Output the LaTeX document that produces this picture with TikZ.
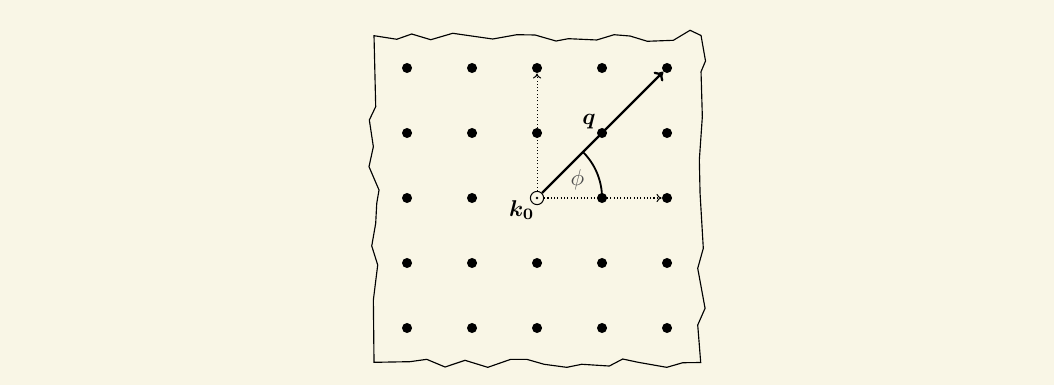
\documentclass[tikz,border=0pt]{standalone}
\usepackage{amsmath}
\usepackage{bm}
\usetikzlibrary{arrows.meta}
\definecolor{bgc}{RGB}{249,246,230}
\begin{document}
\begin{tikzpicture}[
  latdot/.style={circle,fill=black,inner sep=0pt,minimum size=4.4pt},
  origin/.style={circle,draw=black,fill=bgc,line width=0.45pt,inner sep=0pt,minimum size=5.8pt},
  edgeline/.style={line width=0.5pt,line join=miter},
  qarrow/.style={line width=1pt,-{To[length=3.4pt,width=5.6pt]}},
  axisarrow/.style={densely dotted,line width=0.45pt,-{To[length=2.2pt,width=3.6pt]}},
  anglearc/.style={line width=0.8pt}
]
\fill[bgc] (-8.262,-2.877) rectangle (7.953,3.046);
\useasboundingbox (-8.262,-2.877) rectangle (7.953,3.046);
% torn sheet outline
\draw[edgeline]
 (-2.508,2.497) -- (-2.158,2.442) -- (-1.928,2.523) -- (-1.635,2.435) -- (-1.297,2.534)
 -- (-0.682,2.446) -- (-0.312,2.512) -- (-0.031,2.508) -- (0.292,2.415) -- (0.482,2.451)
 -- (0.918,2.431) -- (1.185,2.512) -- (1.431,2.492) -- (1.697,2.411) -- (2.097,2.426)
 -- (2.354,2.580) -- (2.523,2.500)
 -- (2.592,2.108) -- (2.523,1.943) -- (2.543,1.251) -- (2.497,0.585) -- (2.508,0.072)
 -- (2.558,-0.774) -- (2.472,-1.082) -- (2.585,-1.697) -- (2.472,-1.954) -- (2.518,-2.531)
 -- (2.242,-2.534) -- (1.995,-2.605) -- (1.558,-2.528) -- (1.318,-2.477) -- (1.112,-2.585)
 -- (0.688,-2.558) -- (0.457,-2.605) -- (0.108,-2.558) -- (-0.158,-2.482) -- (-0.405,-2.482)
 -- (-0.758,-2.605) -- (-1.108,-2.497) -- (-1.415,-2.600) -- (-1.697,-2.482) -- (-1.954,-2.518)
 -- (-2.508,-2.528)
 -- (-2.518,-1.569) -- (-2.451,-1.031) -- (-2.543,-0.738) -- (-2.482,-0.389) -- (-2.466,-0.082)
 -- (-2.431,0.123) -- (-2.585,0.482) -- (-2.518,0.789) -- (-2.580,1.200) -- (-2.482,1.405)
 -- cycle;
% lattice points
\foreach \i in {-2,...,2}{
  \foreach \j in {-2,...,2}{
    \ifnum\i=0 \ifnum\j=0 \else
      \node[latdot] (d\i\j) at (\i,\j) {};
    \fi
    \else
      \node[latdot] (d\i\j) at (\i,\j) {};
    \fi
  }
}
% origin k0
\node[origin] (k0) at (0,0) {};
\fill (k0.center) circle (0.6pt);
\node (k0lab) at (-0.235,-0.19) {$\bm{k_0}$};
% axes
\draw[axisarrow] (k0) -- (d02);
\draw[axisarrow] (k0) -- (d20);
% angle
\draw[anglearc] (1,0) arc[start angle=0,end angle=45,radius=1];
\node[text=black!70] (philab) at (0.62,0.28) {$\phi$};
% q vector
\draw[qarrow] (k0) -- (d22);
\node (qlab) at (0.80,1.17) {$\bm{q}$};
\end{tikzpicture}
\end{document}
